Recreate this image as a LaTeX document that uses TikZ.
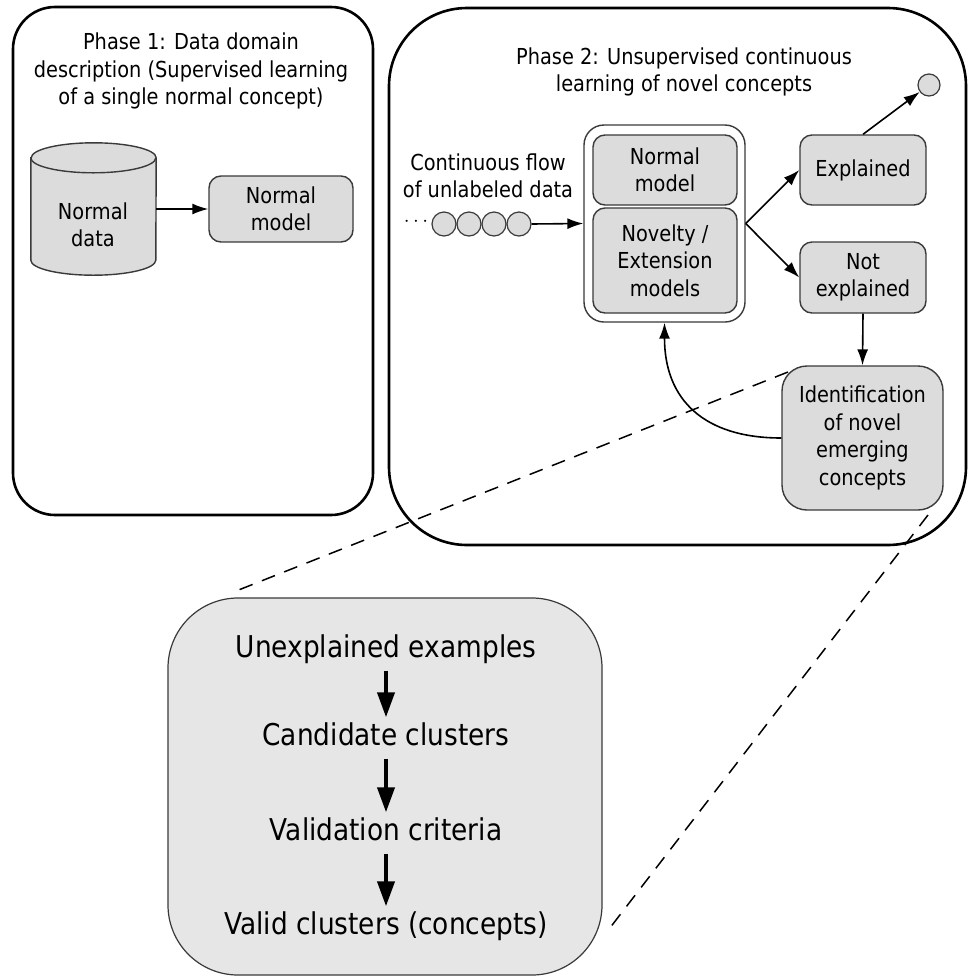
\documentclass[tikz,border=0pt]{standalone}
\usepackage{fontspec}
\setmainfont{DejaVu Sans}[FakeStretch=0.88]
\usetikzlibrary{arrows.meta,calc}

\definecolor{boxgray}{HTML}{DCDCDC}
\definecolor{panelgray}{HTML}{E6E6E6}
\definecolor{edgegray}{HTML}{3A3A3A}

\tikzset{
  phasebox/.style={draw, line width=2.6pt, inner sep=0pt},
  gbox/.style={draw=edgegray, fill=boxgray, line width=1.4pt, rounded corners=12pt,
               align=center, inner sep=0pt, font=\fontsize{22}{27.5}\selectfont},
  lbl/.style={align=center, inner sep=0pt, font=\fontsize{22}{27.5}\selectfont},
  bigtxt/.style={inner sep=0pt, text height=22pt, text depth=7pt, inner ysep=6pt,
                 font=\fontsize{30}{36}\selectfont},
  dot/.style={circle, draw=edgegray, fill=boxgray, line width=1.2pt, minimum size=24pt, inner sep=0pt},
  link/.style={-{Latex[length=16pt,width=11pt]}, line width=1.6pt},
  zoomline/.style={dash pattern=on 14pt off 10pt, line width=1.5pt},
  bigarrow/.style={-{Triangle[length=25pt,width=17pt]}, line width=4pt},
}

\begin{document}
\begin{tikzpicture}[x=1pt,y=-1pt]
\fill[white] (0,0) rectangle (969,978);
\useasboundingbox (0,0) rectangle (969,978);

% ---------- Phase 1 ----------
\node[phasebox, rounded corners=42pt, minimum width=360pt, minimum height=508pt] (phaseA) at (193,261) {};
\node[lbl] (titleA) at (191,71) {Phase 1: Data domain\\description (Supervised learning\\of a single normal concept)};

% cylinder for the normal data
\node[minimum width=125pt, minimum height=102pt, inner sep=0pt] (ndata) at (93.5,209) {};
\filldraw[draw=edgegray, fill=boxgray, line width=1.4pt]
  (ndata.north west) -- (ndata.south west)
  arc[start angle=180, end angle=360, x radius=62.5pt, y radius=15pt]
  -- (ndata.north east)
  arc[start angle=0, end angle=180, x radius=62.5pt, y radius=15pt] -- cycle;
\draw[draw=edgegray, line width=1.4pt] (ndata.north west)
  arc[start angle=180, end angle=360, x radius=62.5pt, y radius=15pt];
\node[lbl] (ndatatxt) at (93,225) {Normal\\data};

\node[gbox, minimum width=144pt, minimum height=66pt] (nmA) at (281,209) {Normal\\model};
\draw[link] (ndata.east) -- (nmA.west);

% ---------- Phase 2 ----------
\node[phasebox, rounded corners=78pt, minimum width=577pt, minimum height=537pt] (phaseB) at (677.5,276.5) {};
\node[lbl] (titleB) at (684,72) {Phase 2: Unsupervised continuous\\learning of novel concepts};

\node[lbl] (flow) at (488,176) {Continuous flow\\of unlabeled data};
\node[lbl] (more) at (416,222) {$\cdots$};
\node[dot] (c1) at (444,224) {};
\node[dot] (c2) at (469,224) {};
\node[dot] (c3) at (494,224) {};
\node[dot] (c4) at (519,224) {};

\node[draw=edgegray, fill=white, line width=1.4pt, rounded corners=20pt,
      minimum width=161pt, minimum height=197pt, inner sep=0pt] (models) at (664.5,223.5) {};
\node[gbox, minimum width=144pt, minimum height=70pt] (nmB) at (665,170) {Normal\\model};
\node[gbox, minimum width=144pt, minimum height=105pt] (nov) at (665,260.5) {Novelty /\\Extension\\models};

\node[gbox, minimum width=126pt, minimum height=70pt] (expl) at (863,170) {Explained};
\node[gbox, minimum width=126pt, minimum height=71pt] (nexpl) at (863,277.5) {Not\\explained};
\node[dot, minimum size=22pt] (out) at (929,85) {};
\node[gbox, rounded corners=25pt, minimum width=161pt, minimum height=144pt] (ident) at (862.5,438)
  {Identification\\of novel\\emerging\\concepts};

\draw[link] (c4.east) -- (models.west);
\draw[link] (models.east) -- (expl.west);
\draw[link] (models.east) -- (nexpl.west);
\draw[link] (expl.north) -- (out);
\draw[link] (nexpl.south) -- (ident.north);
\draw[link] (ident.west) to[out=180, in=-90, looseness=1.2] (models.south);

% ---------- zoomed view of the identification step ----------
\node[draw=edgegray, fill=panelgray, line width=1.2pt, rounded corners=70pt,
      minimum width=434pt, minimum height=377pt, inner sep=0pt] (panel) at (385,786.5) {};
\node[bigtxt] (s1) at (386,650) {Unexplained examples};
\node[bigtxt] (s2) at (386,738) {Candidate clusters};
\node[bigtxt] (s3) at (386,833) {Validation criteria};
\node[bigtxt] (s4) at (386,927) {Valid clusters (concepts)};
\draw[bigarrow] (s1.south) -- (s2.north);
\draw[bigarrow] (s2.south) -- (s3.north);
\draw[bigarrow] (s3.south) -- (s4.north);

\coordinate (zA) at (788,372);
\coordinate (zB) at (231,593);
\coordinate (zC) at (928,515);
\coordinate (zD) at (606,933);
\draw[zoomline] (zA) -- (zB);
\draw[zoomline] (zC) -- (zD);
\end{tikzpicture}
\end{document}
